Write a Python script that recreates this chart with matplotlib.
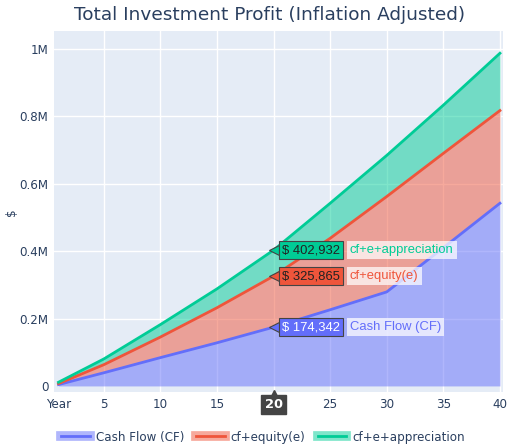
import matplotlib.pyplot as plt
from matplotlib.lines import Line2D
from matplotlib.legend_handler import HandlerTuple
from matplotlib.transforms import blended_transform_factory

# datos (valores en $)
years = [1, 5, 10, 15, 20, 25, 30, 35, 40]
cash_flow = [4000, 39000, 84000, 128000, 174342, 226000, 279000, 410000, 542000]
cf_equity = [7000, 63000, 145000, 232000, 325865, 438000, 562000, 690000, 817000]
cf_e_app = [11000, 80000, 182000, 288000, 402932, 542000, 684000, 833000, 987000]

names = ["Cash Flow (CF)", "cf+equity(e)", "cf+e+appreciation"]
colors = ["#636efa", "#EF553B", "#00cc96"]
hover_year = 20

x_ticks = [1, 5, 10, 15, 20, 25, 30, 35, 40]
x_tick_labels = ["Year", "5", "10", "15", "", "25", "30", "35", "40"]
y_ticks = [0, 200000, 400000, 600000, 800000, 1000000]
y_tick_labels = ["0", "0.2M", "0.4M", "0.6M", "0.8M", "1M"]

txt = "#2a3f5f"

fig = plt.figure(figsize=(5.18, 4.47), dpi=100)
ax = fig.add_axes([54/518, 1-392/447, 449/518, 361/447])
ax.set_facecolor("#E5ECF6")

series = [cash_flow, cf_equity, cf_e_app]
lower = [0] * len(years)
for vals, c in zip(series, colors):
    ax.fill_between(years, lower, vals, color=c, alpha=0.5, lw=0, zorder=2)
    lower = vals
for vals, c in zip(series, colors):
    ax.plot(years, vals, color=c, lw=2, zorder=3)

ax.set_xlim(0.6, 40.27)
ax.set_ylim(-18000, 1053000)
ax.set_xticks(x_ticks)
ax.set_xticklabels(x_tick_labels)
ax.set_yticks(y_ticks)
ax.set_yticklabels(y_tick_labels)
ax.tick_params(length=0, labelsize=8.6, colors=txt, pad=4)
ax.grid(True, color="white", lw=1, zorder=1)
ax.set_axisbelow(True)
ax.xaxis.get_gridlines()[0].set_visible(False)
ax.yaxis.get_gridlines()[0].set_visible(False)
for s in ax.spines.values():
    s.set_visible(False)

fig.text(12/518, 1-212/447, "$", rotation=90, ha="center", va="center",
         color=txt, fontsize=8.6)
fig.text(270/518, 1-15/447, "Total Investment Profit (Inflation Adjusted)",
         ha="center", va="center", fontsize=13.3, color=txt)

# etiquetas tipo hover en el anio 20
idx = years.index(hover_year)
text_cols = ["white", "#222222", "#222222"]
for vals, c, n, tc in zip(series, colors, names, text_cols):
    v = vals[idx]
    ax.plot(hover_year, v, marker="<", ms=7, color=c, mec="#444444",
            mew=0.8, zorder=5, clip_on=False)
    ax.annotate("$ {:,}".format(v), (hover_year, v), xytext=(6, 0),
                textcoords="offset points", ha="left", va="center",
                fontsize=9.4, family="Liberation Sans", color=tc, zorder=6,
                bbox=dict(boxstyle="square,pad=0.25", fc=c, ec="#444444", lw=0.8))
    ax.annotate(n, (hover_year, v), xytext=(55, 0),
                textcoords="offset points", ha="left", va="center",
                fontsize=9.4, family="Liberation Sans", color=c, zorder=6,
                bbox=dict(boxstyle="square,pad=0.25", fc="white", ec="none", alpha=0.72))

# etiqueta del eje x
tr = blended_transform_factory(ax.transData, ax.transAxes)
ax.plot(hover_year, -0.008, marker="^", ms=7, color="#444444", transform=tr,
        clip_on=False, zorder=6)
ax.text(hover_year, -0.035, str(hover_year), transform=tr, ha="center", va="center",
        fontsize=9.4, color="white", zorder=7, fontweight="bold",
        bbox=dict(boxstyle="square,pad=0.25", fc="#444444", ec="#444444"))

handles = [(Line2D([], [], color=c, lw=7, alpha=0.5), Line2D([], [], color=c, lw=2))
           for c in colors]
fig.legend(handles, names, handler_map={tuple: HandlerTuple(ndivide=1)},
           loc="center", bbox_to_anchor=(263/518, 1-437/447), ncol=3, frameon=False,
           fontsize=8.6, labelcolor=txt, handlelength=2.4, columnspacing=1.0,
           handletextpad=0.5)

plt.savefig("out.png", dpi=100)
